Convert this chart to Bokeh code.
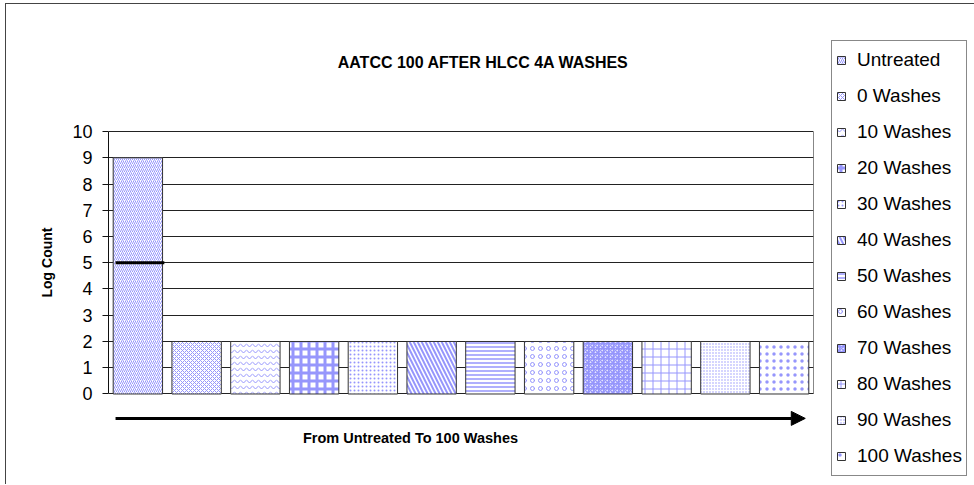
from bokeh.plotting import figure
from bokeh.models import (FactorRange, Range1d, Label, Arrow, NormalHead,
                          FixedTicker, ColumnDataSource, Legend, LegendItem)
from bokeh.embed import file_html
from bokeh.resources import INLINE

# ---- data ----
categories = ["Untreated", "0 Washes", "10 Washes", "20 Washes", "30 Washes",
              "40 Washes", "50 Washes", "60 Washes", "70 Washes", "80 Washes",
              "90 Washes", "100 Washes"]
log_counts = [9, 2, 2, 2, 2, 2, 2, 2, 2, 2, 2, 2]
marker_category = "Untreated"
marker_value = 5
y_ticks = [0, 1, 2, 3, 4, 5, 6, 7, 8, 9, 10]

title_text = "AATCC 100 AFTER HLCC 4A WASHES"
x_title = "From Untreated To 100 Washes"
y_title = "Log Count"

# ---- styles ----
hatch_patterns = ["right_diagonal_line", "diagonal_cross", "horizontal_wave", "cross",
                  "dot", "left_diagonal_line", "horizontal_line", "ring",
                  "criss_cross", "cross", "dot", "dot"]
hatch_scales = [4, 4, 6, 8, 4, 8, 4, 8, 5, 8, 3, 7]
hatch_weights = [1, 1, 1, 3, 1, 2, 1.5, 1, 1.5, 1, 1, 1]

FONT = "Liberation Sans"
HCOL = "#9696fc"

src = ColumnDataSource(dict(cat=categories, val=log_counts, hp=hatch_patterns,
                            hs=hatch_scales, hw=hatch_weights))

# y range chosen so that 0..10 occupy the plot-area box while the frame
# also holds the title, the arrow and the category-axis title
p = figure(x_range=FactorRange(*categories), y_range=Range1d(-3.448, 13.467),
           frame_width=705, frame_height=444,
           min_border_left=108, min_border_right=157,
           min_border_top=40, min_border_bottom=0,
           x_axis_location=None,
           output_backend="svg", toolbar_location=None, title=None)
p.background_fill_color = "white"
p.border_fill_color = None
p.outline_line_color = None
# outer chart-area border (left and top edges)
p.styles = {"background": "linear-gradient(#444,#444) 5px 3px / 1px 100% no-repeat, "
                          "linear-gradient(#444,#444) 5px 3px / 100% 1px no-repeat, white"}

p.xgrid.visible = False
p.ygrid.ticker = FixedTicker(ticks=y_ticks)
p.ygrid.grid_line_color = "#222222"
p.ygrid.grid_line_width = 1

yax = p.yaxis[0]
yax.ticker = FixedTicker(ticks=y_ticks)
yax.bounds = (0, 10)
yax.axis_line_color = "#111111"
yax.major_tick_out = 6
yax.major_tick_in = 0
yax.minor_tick_out = 0
yax.minor_tick_in = 0
yax.major_tick_line_color = "#111111"
yax.major_label_standoff = 10
yax.major_label_text_font = FONT
yax.major_label_text_font_size = "18px"
yax.major_label_text_color = "black"
yax.axis_label = y_title
yax.axis_label_text_font = FONT
yax.axis_label_text_font_size = "14px"
yax.axis_label_text_font_style = "bold"
yax.axis_label_text_color = "black"
yax.axis_label_standoff = 14

bars = p.vbar(x="cat", top="val", width=0.84, source=src, fill_color="white",
              line_color="#333333", line_width=1,
              hatch_pattern="hp", hatch_scale="hs", hatch_weight="hw",
              hatch_color=HCOL)

# right edge of the plot-area box
n = len(categories)
p.segment(x0=[n], x1=[n], y0=[y_ticks[0]], y1=[y_ticks[-1]],
          line_color="#111111", line_width=1)

# marker line on the untreated bar
mi = categories.index(marker_category)
p.segment(x0=[mi + 0.12], x1=[mi + 0.95], y0=[marker_value], y1=[marker_value],
          line_color="black", line_width=3)

# title
p.add_layout(Label(x=6.38, y=12.63, text=title_text, text_font=FONT,
                   text_font_size="16px", text_font_style="bold",
                   text_align="center", text_baseline="middle", text_color="black"))
# arrow and x title
p.add_layout(Arrow(x_start=0.12, y_start=-0.93, x_end=11.86, y_end=-0.93,
                   line_width=3, line_color="black",
                   end=NormalHead(size=14, fill_color="black", line_color="black")))
p.add_layout(Label(x=5.14, y=-1.66, text=x_title, text_font=FONT,
                   text_font_size="14.5px", text_font_style="bold",
                   text_align="center", text_baseline="middle", text_color="black"))

items = [LegendItem(label=c, renderers=[bars], index=i) for i, c in enumerate(categories)]
lg = Legend(items=items, location=(18, 8), orientation="vertical")
lg.padding = 4
lg.spacing = 6
lg.margin = 0
lg.glyph_width = 10
lg.glyph_height = 10
lg.label_height = 30
lg.label_width = 104
lg.label_standoff = 11
lg.label_text_font = FONT
lg.label_text_font_size = "19px"
lg.label_text_color = "black"
lg.border_line_color = "#111111"
lg.border_line_width = 1
lg.background_fill_color = "white"
lg.background_fill_alpha = 1
p.add_layout(lg, "right")

open("out.html", "w").write(file_html(p, INLINE))
